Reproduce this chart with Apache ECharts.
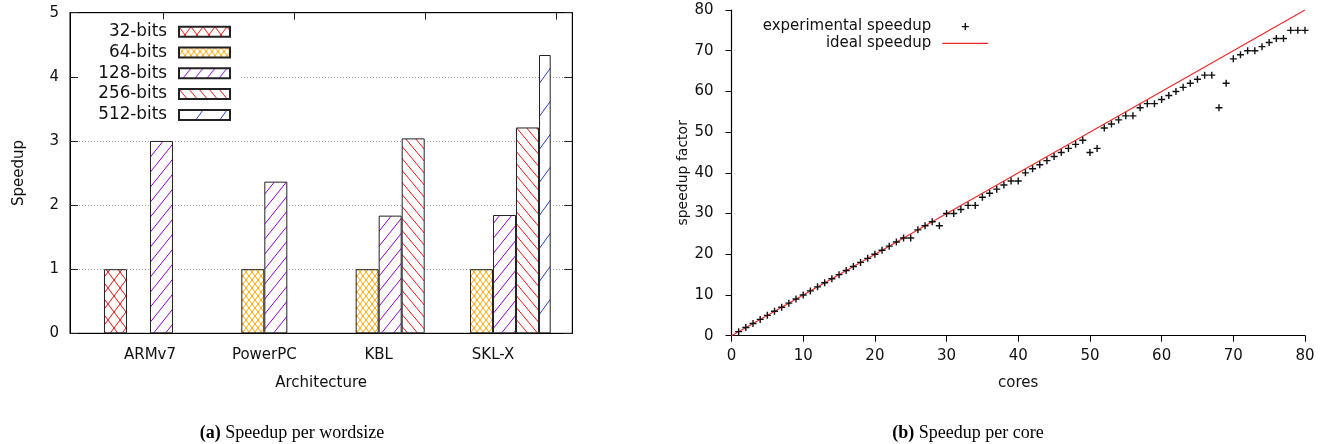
<!DOCTYPE html>
<html><head><meta charset="utf-8">
<script src="https://cdn.jsdelivr.net/npm/echarts@6/dist/echarts.min.js"></script>
<style>html,body{margin:0;padding:0;background:#fff}#c{width:1328px;height:444px}</style>
</head><body><div id="c"></div>
<script>
// ---------- data: left chart ----------
const categories = ['ARMv7', 'PowerPC', 'KBL', 'SKL-X'];
const wordsizes = ['32-bits', '64-bits', '128-bits', '256-bits', '512-bits'];
const speedup32 = [1, null, null, null];
const speedup64 = [null, 1, 1, 1];
const speedup128 = [3.0, 2.365, 1.835, 1.845];
const speedup256 = [null, null, 3.04, 3.21];
const speedup512 = [null, null, null, 4.34];
const speedupTicks = [0, 1, 2, 3, 4, 5];

// ---------- data: right chart ----------
const cores = [1,2,3,4,5,6,7,8,9,10,11,12,13,14,15,16,17,18,19,20,
  21,22,23,24,25,26,27,28,29,30,31,32,33,34,35,36,37,38,39,40,
  41,42,43,44,45,46,47,48,49,50,51,52,53,54,55,56,57,58,59,60,
  61,62,63,64,65,66,67,68,69,70,71,72,73,74,75,76,77,78,79,80];
const experimental = [1,2,3,4,5,6,7,8,9,10,11,12,13,14,15,16,17,18,19,20,
  21,22,23,24,24,26,27,28,27,30,30,31,32,32,34,35,36,37,38,38,
  40,41,42,43,44,45,46,47,48,45,46,51,52,53,54,54,56,57,57,58,
  59,60,61,62,63,64,64,56,62,68,69,70,70,71,72,73,73,75,75,75];
const idealCores = [0, 80];
const idealSpeedup = [0, 80];
const coreTicks = [0, 10, 20, 30, 40, 50, 60, 70, 80];
const factorTicks = [0, 10, 20, 30, 40, 50, 60, 70, 80];

// ---------- hatch patterns ----------
function hatch(color, w, h, dirs, lw) {
  const c = document.createElement('canvas');
  c.width = w; c.height = h;
  const g = c.getContext('2d');
  g.fillStyle = '#fff'; g.fillRect(0, 0, w, h);
  g.strokeStyle = color; g.lineWidth = lw;
  for (const d of dirs) {
    for (const k of [-1, 0, 1]) {
      g.beginPath();
      if (d === '/') { g.moveTo(k * w, h); g.lineTo(k * w + w, 0); }
      else { g.moveTo(k * w, 0); g.lineTo(k * w + w, h); }
      g.stroke();
    }
  }
  return { image: c, repeat: 'repeat' };
}
const fills = [
  hatch('#dd1111', 12, 16, ['/', '\\'], 1),
  hatch('#ffa500', 6, 8, ['/', '\\'], 1),
  hatch('#9400d3', 12, 15, ['/'], 1),
  hatch('#ee1111', 10, 12, ['\\'], 1),
  hatch('#2a3fc0', 24, 33, ['/'], 1)
];
const barData = [speedup32, speedup64, speedup128, speedup256, speedup512];

const FONT = 'DejaVu Sans';
const TXT = '#111';
const plusPath = 'path://M0,4H10V6H0Z M4,0H6V10H4Z';
const linePath = 'path://M0,0H40V1H0Z';

const barSeries = [{
  type: 'bar', name: '_pad', xAxisIndex: 2, yAxisIndex: 2,
  data: [], barWidth: 23, barGap: '0%'
}].concat(wordsizes.map((n, i) => ({
  type: 'bar', name: n, xAxisIndex: 2, yAxisIndex: 2,
  data: barData[i], barWidth: 23, barGap: '0%',
  itemStyle: { color: fills[i], borderColor: '#222', borderWidth: 1 },
  emphasis: { disabled: true }
})));

const option = {
  animation: false,
  backgroundColor: '#fff',
  textStyle: { fontFamily: FONT },
  title: [
    { text: '{b|(a)} Speedup per wordsize', left: 287, top: 419, textAlign: 'center',
      textStyle: { fontFamily: 'Liberation Serif', fontSize: 18, fontWeight: 'normal', color: '#000',
        rich: { b: { fontFamily: 'Liberation Serif', fontSize: 18, fontWeight: 'bold', color: '#000' } } } },
    { text: '{b|(b)} Speedup per core', left: 963, top: 419, textAlign: 'center',
      textStyle: { fontFamily: 'Liberation Serif', fontSize: 18, fontWeight: 'normal', color: '#000',
        rich: { b: { fontFamily: 'Liberation Serif', fontSize: 18, fontWeight: 'bold', color: '#000' } } } }
  ],
  legend: [
    { data: wordsizes, orient: 'vertical', align: 'right', right: 1088, top: 19.5,
      padding: [2, 9, 2, 19], backgroundColor: '#fff', itemWidth: 51, itemHeight: 10, itemGap: 0.4,
      icon: 'rect', selectedMode: false,
      textStyle: { fontFamily: FONT, fontSize: 16.8, color: TXT, lineHeight: 20.4, padding: [0, 7, 0, 0] } },
    { data: [{ name: 'experimental speedup', icon: plusPath }, { name: 'ideal speedup', icon: linePath }],
      orient: 'vertical', align: 'right', right: 339.7, top: 18.2, padding: 0,
      itemWidth: 46, itemHeight: 7, itemGap: 0, selectedMode: false,
      textStyle: { fontFamily: FONT, fontSize: 15, color: TXT, lineHeight: 16.8, padding: [0, 6, 0, 0] } }
  ],
  grid: [
    { left: 70, right: 755.7, top: 12.7, bottom: 110.7, show: true, borderColor: '#000', borderWidth: 1, backgroundColor: 'transparent' },
    { left: 92.8, right: 777.8, top: 12.7, bottom: 110.7 },
    { left: 731.5, right: 23, top: 10, bottom: 108.3 }
  ],
  xAxis: [
    { gridIndex: 0, type: 'value', min: 0, max: 1, position: 'bottom',
      axisLine: { show: true, onZero: false, lineStyle: { color: '#000', width: 1 } }, axisTick: { show: false },
      axisLabel: { show: false }, splitLine: { show: false },
      name: 'Architecture', nameLocation: 'middle', nameGap: 42,
      nameTextStyle: { fontFamily: FONT, fontSize: 15, color: TXT } },
    { gridIndex: 0, type: 'value', min: -0.712, max: 3.12, position: 'top',
      axisLine: { show: true, onZero: false, lineStyle: { color: '#000', width: 1 } },
      axisTick: { show: true, inside: true, length: 7, customValues: [0, 1, 2, 3], lineStyle: { color: '#222' } },
      axisLabel: { show: false }, splitLine: { show: false } },
    { gridIndex: 1, type: 'category', data: categories,
      axisLine: { show: false }, axisTick: { show: false },
      axisLabel: { fontFamily: FONT, fontSize: 15, color: TXT, margin: 14 } },
    { gridIndex: 2, type: 'value', min: 0, max: 80, interval: 10,
      axisLine: { show: true, lineStyle: { color: '#000', width: 1.2 } },
      axisTick: { show: true, inside: false, length: 6, customValues: coreTicks, lineStyle: { color: '#000' } },
      axisLabel: { fontFamily: FONT, fontSize: 15, color: TXT, margin: 13, customValues: coreTicks },
      splitLine: { show: false },
      name: 'cores', nameLocation: 'middle', nameGap: 40,
      nameTextStyle: { fontFamily: FONT, fontSize: 15, color: TXT } }
  ],
  yAxis: [
    { gridIndex: 0, type: 'value', min: 0, max: 5, interval: 1, position: 'left',
      axisLine: { show: true, onZero: false, lineStyle: { color: '#000' } },
      axisTick: { show: true, inside: true, length: 8, lineStyle: { color: '#222' } },
      axisLabel: { fontFamily: FONT, fontSize: 15, color: TXT, margin: 11, customValues: speedupTicks },
      splitLine: { show: true, lineStyle: { color: '#9a9a9a', type: [1, 2], width: 1 } },
      name: 'Speedup', nameLocation: 'middle', nameGap: 43, nameRotate: 90,
      nameTextStyle: { fontFamily: FONT, fontSize: 15, color: TXT } },
    { gridIndex: 0, type: 'value', min: 0, max: 5, interval: 1, position: 'right',
      axisLine: { show: true, onZero: false, lineStyle: { color: '#000' } },
      axisTick: { show: true, inside: true, length: 8, lineStyle: { color: '#222' } },
      axisLabel: { show: false }, splitLine: { show: false } },
    { gridIndex: 1, type: 'value', min: 0, max: 5, show: false },
    { gridIndex: 2, type: 'value', min: 0, max: 80, interval: 10,
      axisLine: { show: true, lineStyle: { color: '#000', width: 1.2 } },
      axisTick: { show: true, inside: false, length: 6, lineStyle: { color: '#000' } },
      axisLabel: { fontFamily: FONT, fontSize: 15, color: TXT, margin: 18, customValues: factorTicks },
      splitLine: { show: false },
      name: 'speedup factor', nameLocation: 'middle', nameGap: 28.5, nameRotate: 90,
      nameTextStyle: { fontFamily: FONT, fontSize: 14, color: TXT } }
  ],
  series: barSeries.concat([
    { type: 'line', name: 'ideal speedup', xAxisIndex: 3, yAxisIndex: 3, symbol: 'none',
      data: idealCores.map((c, i) => [c, idealSpeedup[i]]),
      lineStyle: { color: '#ee2a2a', width: 1.2 }, itemStyle: { color: '#ee2a2a' }, z: 2, silent: true },
    { type: 'scatter', name: 'experimental speedup', xAxisIndex: 3, yAxisIndex: 3,
      symbol: plusPath, symbolSize: 7,
      data: cores.map((c, i) => [c, experimental[i]]),
      itemStyle: { color: '#111', opacity: 1 }, z: 3, silent: true }
  ])
};
const chart = echarts.init(document.getElementById('c'), null, { renderer: 'canvas' });
chart.setOption(option);
</script>
</body></html>
